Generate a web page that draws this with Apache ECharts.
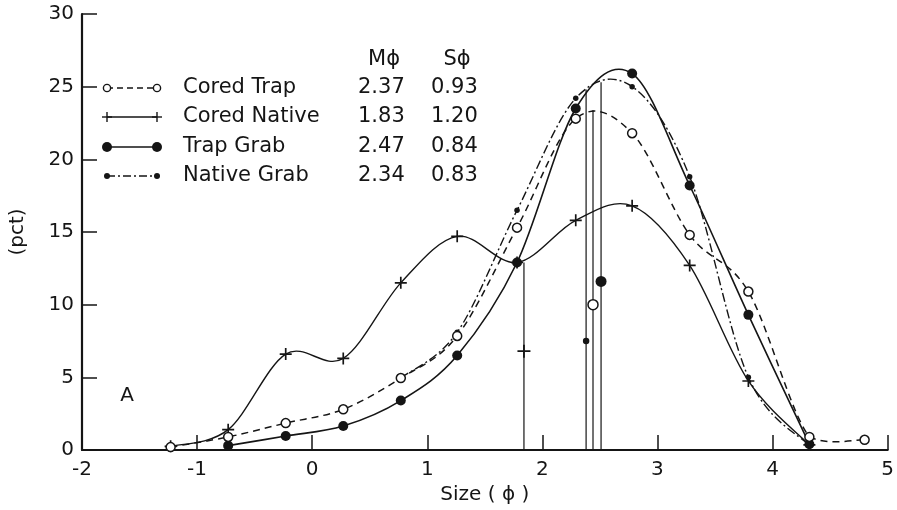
<!DOCTYPE html>
<html><head><meta charset="utf-8">
<script src="https://cdn.jsdelivr.net/npm/echarts@6/dist/echarts.min.js"></script>
<style>html,body{margin:0;padding:0;background:#fff}#c{width:897px;height:510px}</style>
</head><body><div id="c"></div>
<script>
// ---- data ----
const phi         = [-1.23, -0.73, -0.23, 0.27, 0.77, 1.26, 1.78, 2.29, 2.78, 3.28, 3.79, 4.32, 4.80];
const coredTrap   = [0.2, 0.9, 1.85, 2.8, 4.95, 7.85, 15.3, 22.8, 21.8, 14.8, 10.9, 0.9, 0.7];
const coredNative = [0.25, 1.4, 6.6, 6.3, 11.5, 14.7, 12.9, 15.8, 16.8, 12.7, 4.75, 0.35, null];
const trapGrab    = [null, 0.3, 0.96, 1.65, 3.4, 6.5, 12.9, 23.5, 25.9, 18.2, 9.3, 0.4, null];
const nativeGrab  = [null, null, null, null, 4.95, 8.1, 16.5, 24.2, 25.0, 18.8, 5.0, 0.3, null];

const seriesNames = ['Cored Trap', 'Cored Native', 'Trap Grab', 'Native Grab'];
const mPhi = ['2.37', '1.83', '2.47', '2.34'];
const sPhi = ['0.93', '1.20', '0.84', '0.83'];
// mean lines (x position, top of line, height of marker on line)
const meanX    = [2.44, 1.84, 2.51, 2.38];
const meanTop  = [23.4, 12.9, 25.3, 24.8];
const meanMark = [10.0, 6.8, 11.6, 7.5];

const xTicks = [-2, -1, 0, 1, 2, 3, 4, 5];
const yTicks = [0, 5, 10, 15, 20, 25, 30];

// ---- styles ----
const INK = '#151515';
const FONT = '"DejaVu Sans", sans-serif';
const PLUS = 'path://M4.3,0H5.7V4.3H10V5.7H5.7V10H4.3V5.7H0V4.3H4.3Z';
const styles = [
  {dash: [7, 5], width: 1.5, symbol: 'circle', size: 9, item: {color: '#fff', borderColor: INK, borderWidth: 1.5, opacity: 1}},
  {dash: null, width: 1.4, symbol: PLUS, size: 12, item: {color: INK, borderWidth: 0, opacity: 1}},
  {dash: null, width: 1.6, symbol: 'circle', size: 10, item: {color: INK, borderWidth: 0, opacity: 1}},
  {dash: [9, 3, 2, 3], width: 1.4, symbol: 'circle', size: 5.5, item: {color: INK, borderWidth: 0, opacity: 1}}
];
const values = [coredTrap, coredNative, trapGrab, nativeGrab];

// Catmull-Rom path through pixel points; control points kept above the baseline
function crPath(pts, base) {
  const n = pts.length;
  const cl = y => Math.min(y, base - 4);
  let d = 'M' + pts[0][0] + ',' + pts[0][1];
  for (let i = 0; i < n - 1; i++) {
    const p0 = pts[Math.max(i - 1, 0)], p1 = pts[i], p2 = pts[i + 1], p3 = pts[Math.min(i + 2, n - 1)];
    const c1x = p1[0] + (p2[0] - p0[0]) / 6, c1y = cl(p1[1] + (p2[1] - p0[1]) / 6);
    const c2x = p2[0] - (p3[0] - p1[0]) / 6, c2y = cl(p2[1] - (p3[1] - p1[1]) / 6);
    d += 'C' + c1x + ',' + c1y + ',' + c2x + ',' + c2y + ',' + p2[0] + ',' + p2[1];
  }
  return d;
}

const series = [];
// vertical mean lines (beneath)
meanX.forEach((x, i) => {
  const st = styles[i];
  series.push({
    type: 'line', name: seriesNames[i] + ' mean', silent: true, z: 1,
    data: [
      {value: [x, 0], symbol: 'none'},
      {value: [x, meanMark[i]], symbol: st.symbol, symbolSize: st.size + 1, itemStyle: st.item},
      {value: [x, meanTop[i]], symbol: 'none'}
    ],
    lineStyle: {color: INK, width: 1.2, type: 'solid'},
    showAllSymbol: true, animation: false
  });
});
// smooth curves via custom series using the axis scales
[3, 2, 1, 0].forEach(i => {
  const st = styles[i];
  const vals = values[i];
  series.push({
    type: 'custom', name: seriesNames[i] + ' curve', coordinateSystem: 'cartesian2d', z: 2, silent: true,
    data: [[phi[0], 0]],
    renderItem: function (params, api) {
      const pts = [];
      phi.forEach((p, k) => { if (vals[k] != null) pts.push(api.coord([p, vals[k]])); });
      const base = api.coord([0, 0])[1];
      return {type: 'path', shape: {pathData: crPath(pts, base)},
        style: {stroke: INK, fill: null, lineWidth: st.width, lineDash: st.dash}};
    },
    animation: false
  });
});
// markers (open circles drawn last so they sit on top)
[3, 2, 1, 0].forEach(i => {
  const st = styles[i];
  series.push({
    type: 'scatter', name: seriesNames[i], z: 6 + (3 - i),
    data: phi.map((p, k) => [p, values[i][k]]).filter(d => d[1] != null),
    symbol: st.symbol, symbolSize: st.size, itemStyle: st.item,
    emphasis: {disabled: true}, animation: false
  });
});

// ---- legend table as graphics ----
const graphic = [];
const rowY = [88, 117, 147, 176];
const lx1 = 107, lx2 = 157;
function sym(i, cx, cy) {
  if (i === 0) return {type: 'circle', shape: {cx, cy, r: 3.6}, style: {fill: '#fff', stroke: INK, lineWidth: 1.4}, z: 10};
  if (i === 2) return {type: 'circle', shape: {cx, cy, r: 5}, style: {fill: INK}, z: 10};
  if (i === 3) return {type: 'circle', shape: {cx, cy, r: 3}, style: {fill: INK}, z: 10};
  return {type: 'group', z: 10, children: [
    {type: 'line', shape: {x1: cx - 5, y1: cy, x2: cx + 5, y2: cy}, style: {stroke: INK, lineWidth: 1.4}},
    {type: 'line', shape: {x1: cx, y1: cy - 5, x2: cx, y2: cy + 5}, style: {stroke: INK, lineWidth: 1.4}}
  ]};
}
const dashes = [[6, 4], null, null, [8, 3, 2, 3]];
seriesNames.forEach((nm, i) => {
  const y = rowY[i];
  graphic.push({type: 'line', shape: {x1: lx1, y1: y, x2: lx2, y2: y},
    style: {stroke: INK, lineWidth: 1.4, lineDash: dashes[i] || null}, z: 9});
  graphic.push(sym(i, lx1, y));
  graphic.push(sym(i, lx2, y));
  graphic.push({type: 'text', x: 183, y: y, style: {text: nm, font: '21px ' + FONT, fill: INK, verticalAlign: 'middle', align: 'left'}});
  graphic.push({type: 'text', x: 358, y: y, style: {text: mPhi[i], font: '21px ' + FONT, fill: INK, verticalAlign: 'middle', align: 'left'}});
  graphic.push({type: 'text', x: 431, y: y, style: {text: sPhi[i], font: '21px ' + FONT, fill: INK, verticalAlign: 'middle', align: 'left'}});
});
graphic.push({type: 'text', x: 384, y: 60, style: {text: 'Mϕ', font: '21px ' + FONT, fill: INK, verticalAlign: 'middle', align: 'center'}});
graphic.push({type: 'text', x: 457, y: 60, style: {text: 'Sϕ', font: '21px ' + FONT, fill: INK, verticalAlign: 'middle', align: 'center'}});
graphic.push({type: 'text', x: 127, y: 396, style: {text: 'A', font: '20px ' + FONT, fill: INK, verticalAlign: 'middle', align: 'center'}});

const axisCommon = {
  axisLine: {show: true, onZero: false, lineStyle: {color: INK, width: 2.2}},
  axisTick: {show: true, inside: true, length: 15, lineStyle: {color: INK, width: 1.5}},
  splitLine: {show: false},
  axisLabel: {color: INK, fontSize: 20, fontFamily: FONT}
};

const option = {
  backgroundColor: '#fff',
  animation: false,
  grid: {left: 75, right: 9, top: 14, bottom: 60, containLabel: false},
  xAxis: Object.assign({}, axisCommon, {
    type: 'value', min: xTicks[0], max: xTicks[xTicks.length - 1], interval: 1,
    name: 'Size ( ϕ )', nameLocation: 'middle', nameGap: 33,
    nameTextStyle: {color: INK, fontSize: 20, fontFamily: FONT},
    axisLabel: Object.assign({}, axisCommon.axisLabel, {margin: 10})
  }),
  yAxis: Object.assign({}, axisCommon, {
    type: 'value', min: yTicks[0], max: yTicks[yTicks.length - 1], interval: 5,
    name: '(pct)', nameLocation: 'middle', nameGap: 54,
    nameTextStyle: {color: INK, fontSize: 20, fontFamily: FONT},
    axisLabel: Object.assign({}, axisCommon.axisLabel, {margin: 8})
  }),
  series: series,
  graphic: graphic
};
const chart = echarts.init(document.getElementById('c'), null, {renderer: 'canvas'});
chart.setOption(option);
</script>
</body></html>
